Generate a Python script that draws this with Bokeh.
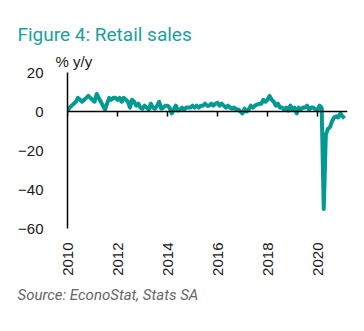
from bokeh.plotting import figure
from bokeh.models import LinearAxis, FixedTicker, Title, Range1d, ColumnDataSource
from bokeh.embed import file_html
from bokeh.resources import INLINE

start_year = 2010
# monthly retail sales growth, % y/y, Jan 2010 .. Feb 2021
values = [
    0.5, 2, 3, 4, 5, 7, 6, 5, 6, 7, 8, 7,          # 2010
    6, 5, 9, 7, 5, 3, 1, 4, 7, 6, 7, 7,            # 2011
    6, 7, 5, 7, 6, 5, 2, 6, 5, 3, 4, 2,            # 2012
    1.5, 3, 2, 1, 4, 2, 1.5, 3, 5, 1.5, 2, 3,      # 2013
    3, 2, -1, 1, 3, 0.5, 1, 2, 1, 2, 2, 2,         # 2014
    3, 2, 3, 2, 3, 3, 4, 3, 3, 4, 3, 4,            # 2015
    4.5, 3, 4, 3, 2, 3, 2, 1.5, 2, 1, 1, 0,        # 2016
    -1, 1.5, 0, 1, 3, 2, 3, 3.5, 4, 4, 6, 5,       # 2017
    6, 8, 6, 5, 3, 4, 2, 2, 1, 2, 0.5, 3,          # 2018
    1, 2, -1, 2, 1, 2, 2, 3, 1, 2, 2, 1,           # 2019
    1, 3, 2, -50, -12, -9, -8, -5, -3, -2.5, -3, -1,  # 2020
    -2.5, -3.5,                                    # 2021
]
tick_years = [2010, 2012, 2014, 2016, 2018, 2020]
y_ticks = [20, 0, -20, -40, -60]

dates = [start_year + i / 12 for i in range(len(values))]
src = ColumnDataSource(dict(x=dates, y=values))

p = figure(width=364, height=331, output_backend="svg", toolbar_location=None,
           x_range=Range1d(2010, 2021.2), y_range=Range1d(-60, 20),
           min_border_left=67, min_border_right=17, min_border_top=72, min_border_bottom=103,
           x_axis_location=None)
p.outline_line_color = None
p.grid.grid_line_color = None
p.background_fill_color = "white"
p.border_fill_color = "white"

p.line("x", "y", source=src, line_color="#009a93", line_width=4, line_join="round")

# zero axis with ticks
ax0 = LinearAxis(fixed_location=0, ticker=FixedTicker(ticks=tick_years),
                 major_label_text_color=None, major_label_text_font_size="10px",
                 axis_line_color="black",
                 axis_line_width=1.5, major_tick_line_color="black", major_tick_line_width=1.5,
                 major_tick_out=5, major_tick_in=0, minor_tick_line_color=None)
p.add_layout(ax0, "below")
# labels axis at bottom
ax1 = LinearAxis(ticker=FixedTicker(ticks=tick_years), axis_line_color=None,
                 major_tick_line_color=None, minor_tick_line_color=None,
                 major_label_orientation=1.5708, major_label_standoff=8,
                 major_label_text_font="Liberation Sans", major_label_text_font_size="15px",
                 major_label_text_color="#1a1a1a")
p.add_layout(ax1, "below")

ya = p.yaxis[0]
ya.ticker = FixedTicker(ticks=y_ticks)
ya.axis_line_color = "black"
ya.axis_line_width = 1.5
ya.major_tick_line_color = None
ya.minor_tick_line_color = None
ya.major_label_standoff = 18
ya.major_label_text_font = "Liberation Sans"
ya.major_label_text_font_size = "15px"
ya.major_label_text_color = "#1a1a1a"

p.title.text = "Figure 4: Retail sales"
p.title.align = "left"
p.title.offset = -50
p.title.text_font = "Roboto"
p.title.text_font_style = "normal"
p.title.text_font_size = "19px"
p.title.text_color = "#1aa0a0"
p.title.standoff = 6

p.add_layout(Title(text="% y/y", align="left", offset=-12, text_font="Liberation Sans",
                   text_font_style="normal", text_font_size="15px", text_color="#1a1a1a",
                   standoff=5), "above")
p.add_layout(Title(text="Source: EconoStat, Stats SA", align="left", offset=-50,
                   text_font="Roboto", text_font_style="italic", text_font_size="15px",
                   text_color="#666666"), "below")

open("out.html", "w").write(file_html(p, INLINE))
